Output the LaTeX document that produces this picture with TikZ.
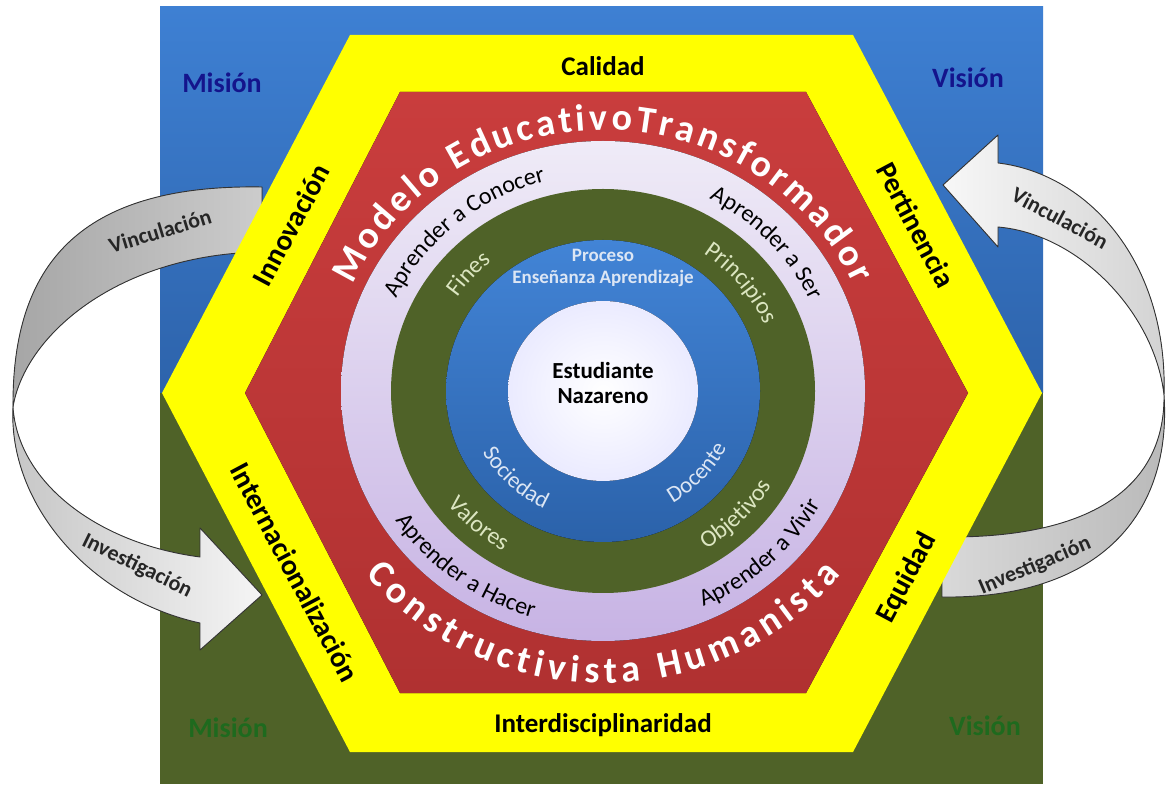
\documentclass[tikz,border=0pt]{standalone}
\usepackage{fontspec}
\setmainfont{Carlito}
\usetikzlibrary{decorations.text,calc}
\definecolor{bgblueT}{HTML}{3E80D3}
\definecolor{bgblueB}{HTML}{2D63AB}
\definecolor{bggreen}{HTML}{4F6228}
\definecolor{hexyellow}{HTML}{FFFF00}
\definecolor{hexredT}{HTML}{C93D3D}
\definecolor{hexredB}{HTML}{B03131}
\definecolor{lavT}{HTML}{EFEBF7}
\definecolor{lavB}{HTML}{C7B3E4}
\definecolor{ringgreen}{HTML}{4F6228}
\definecolor{cblueT}{HTML}{4284D6}
\definecolor{cblueB}{HTML}{2B62AA}
\definecolor{navytext}{HTML}{14148C}
\definecolor{greentext}{HTML}{1E6A1E}
\definecolor{palegreen}{HTML}{DCE6C1}
\definecolor{paleblue}{HTML}{DCE6F4}
\definecolor{arrowline}{HTML}{333333}
% text on the top of an ellipse, read clockwise (letters outward)
\newcommand{\toparc}[6]{%
  \path[decorate,decoration={text along path,text align=center,text={|#5|#6}}]
    ($(C)+({#1+#2}:#3pt and #4pt)$) arc[start angle={#1+#2},end angle={#1-#2},x radius=#3pt,y radius=#4pt];}
% text on the bottom of an ellipse, read counter-clockwise (letters inward)
\newcommand{\botarc}[6]{%
  \path[decorate,decoration={text along path,text align=center,text={|#5|#6}}]
    ($(C)+({#1-#2}:#3pt and #4pt)$) arc[start angle={#1-#2},end angle={#1+#2},x radius=#3pt,y radius=#4pt];}
\begin{document}
\begin{tikzpicture}[x=1pt,y=1pt,
  arrowband/.style={draw=arrowline,line width=0.9pt,line join=round},
  arrtext/.style={font=\fontsize{22}{24}\selectfont\bfseries,text=black!85,inner sep=0pt},
  yellowlbl/.style={font=\fontsize{29}{32}\selectfont\bfseries,text=black,inner sep=0pt},
  horizlbl/.style={font=\fontsize{27}{30}\selectfont\bfseries,text=black,inner sep=0pt},
  corner/.style={font=\fontsize{28}{30}\selectfont\bfseries,inner sep=0pt},
  inner/.style={font=\fontsize{19}{22}\selectfont\bfseries,text=paleblue,inner sep=0pt},
  center/.style={font=\fontsize{23}{27}\selectfont\bfseries,text=black,inner sep=0pt,align=center}]
\useasboundingbox (0,0) rectangle (1166,784);
\fill[white] (0,0) rectangle (1166,784);
\coordinate (C) at (603,393);
% background square
\fill[top color=bgblueT,bottom color=bgblueB] (160,391) rectangle (1043,777);
\fill[bggreen] (160,0) rectangle (1043,391);
% left curved arrow
\filldraw[arrowband,left color=gray!70,right color=gray!40]
  (262,597) .. controls (80,600) and (12,520) .. (13,377)
  .. controls (25,450) and (120,530) .. (262,532) -- cycle;
\filldraw[arrowband,left color=gray!45,right color=gray!8]
  (13,377) .. controls (18,300) and (100,240) .. (200,227)
  -- (200,256) -- (262,189) -- (200,134) -- (200,161)
  .. controls (90,185) and (8,280) .. (13,377) -- cycle;
% right curved arrow
\filldraw[arrowband,left color=gray!6,right color=gray!35]
  (943,599) -- (998,649) -- (998,621)
  .. controls (1090,610) and (1168,520) .. (1164,389)
  .. controls (1155,470) and (1080,550) .. (998,557) -- (998,537) -- cycle;
\filldraw[arrowband,left color=gray!30,right color=gray!55]
  (1164,389) .. controls (1172,270) and (1100,185) .. (942,187)
  -- (942,247) .. controls (1110,245) and (1165,310) .. (1164,389) -- cycle;
% hexagons
\fill[hexyellow] (350,749) -- (853,749) -- (1042,391) -- (853,32) -- (350,32) -- (162,391) -- cycle;
\fill[top color=hexredT,bottom color=hexredB] (400,692) -- (806,692) -- (968,391) -- (806,91) -- (400,91) -- (245,391) -- cycle;
% rings
\fill[top color=lavT,bottom color=lavB] (C) ellipse [x radius=262pt,y radius=250pt];
\fill[ringgreen] (C) ellipse [x radius=212pt,y radius=202pt];
\fill[top color=cblueT,bottom color=cblueB] (C) ellipse [x radius=157pt,y radius=151pt];
\fill[inner color=white,outer color=white!92!blue] (C) ellipse [x radius=95pt,y radius=90pt];
% arrow labels
\node[arrtext,rotate=17] (vinL) at (160,553) {Vinculación};
\node[arrtext,rotate=-26] (invL) at (137,218) {Investigación};
\node[arrtext,rotate=-28] (vinR) at (1060,566) {Vinculación};
\node[arrtext,rotate=23] (invR) at (1035,218) {Investigación};
% corner labels
\node[corner,text=navytext] (misT) at (222,701) {Misión};
\node[corner,text=navytext] (visT) at (968,706) {Visión};
\node[corner,text=greentext] (misB) at (228,56) {Misión};
\node[corner,text=greentext] (visB) at (985,58) {Visión};
% yellow band labels
\node[horizlbl] (cal) at (603,718) {Calidad};
\node[horizlbl] (int) at (603,59) {Interdisciplinaridad};
\node[yellowlbl,rotate=62] (inn) at (291,559) {Innovación};
\node[yellowlbl,rotate=-62] (per) at (916,559) {Pertinencia};
\node[yellowlbl,rotate=-62] (intl) at (295,212) {Internacionalización};
\node[yellowlbl,rotate=62] (equ) at (907,206) {Equidad};
% big arc texts
\path[decorate,decoration={text along path,text align={fit to path},
  text={|\fontsize{38}{40}\selectfont\bfseries\color{white}|Modelo EducativoTransformador}}]
  ($(C)+(156:274pt and 261pt)$) arc[start angle=156,end angle=24,x radius=274pt,y radius=261pt];
\path[decorate,decoration={text along path,text align={fit to path},
  text={|\fontsize{38}{40}\selectfont\bfseries\color{white}|Constructivista Humanista}}]
  ($(C)+(219:306pt and 292pt)$) arc[start angle=219,end angle=321,x radius=306pt,y radius=292pt];
% lavender ring
\toparc{130}{40}{228}{217}{\fontsize{24}{26}\selectfont\color{black}}{Aprender a Conocer}
\toparc{43}{40}{228}{217}{\fontsize{24}{26}\selectfont\color{black}}{Aprender a Ser}
\botarc{233}{40}{248}{236}{\fontsize{24}{26}\selectfont\color{black}}{Aprender a Hacer}
\botarc{313}{40}{248}{236}{\fontsize{24}{26}\selectfont\color{black}}{Aprender a Vivir}
% green ring
\toparc{138}{35}{176}{167}{\fontsize{24}{26}\selectfont\color{palegreen}}{Fines}
\toparc{39}{35}{176}{167}{\fontsize{24}{26}\selectfont\color{palegreen}}{Principios}
\botarc{228}{35}{196}{186}{\fontsize{24}{26}\selectfont\color{palegreen}}{Valores}
\botarc{316}{35}{196}{186}{\fontsize{24}{26}\selectfont\color{palegreen}}{Objetivos}
% blue ring
\botarc{226}{40}{137}{130}{\fontsize{23}{25}\selectfont\color{paleblue}}{Sociedad}
\botarc{318}{40}{137}{130}{\fontsize{23}{25}\selectfont\color{paleblue}}{Docente}
\node[inner] (pro) at (603,529) {Proceso};
\node[inner] (ens) at (603,506) {Enseñanza Aprendizaje};
% centre
\node[center] (est) at (603,401) {Estudiante\\[-2pt]Nazareno};
\end{tikzpicture}
\end{document}
